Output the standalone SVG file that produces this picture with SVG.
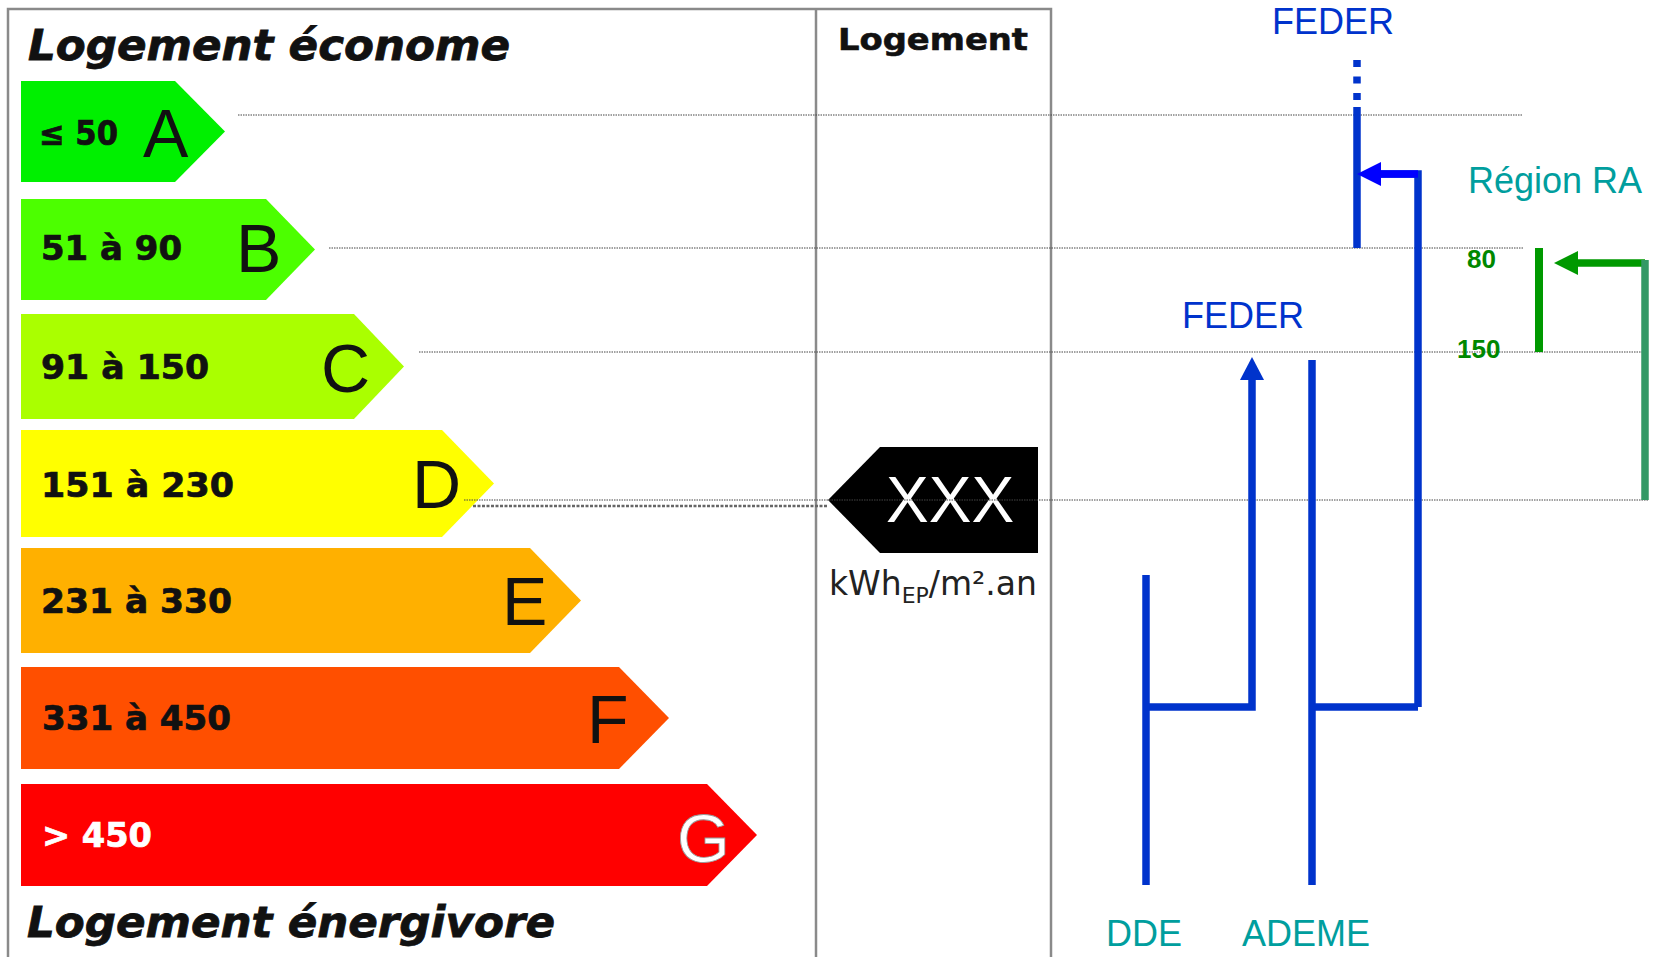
<svg xmlns="http://www.w3.org/2000/svg" width="1662" height="957" viewBox="0 0 1662 957">
<style>
.frame{fill:none;stroke:#8a8a8a;stroke-width:2.5}
.guide{stroke:#444;stroke-width:1;stroke-dasharray:1.5 1;fill:none}
.rng{font-family:"DejaVu Sans",sans-serif;font-weight:bold;font-size:33px;fill:#111;stroke:#111;stroke-width:0.7}
.let{font-family:"Liberation Sans",Arial,sans-serif;font-size:68px;fill:#111}
.ttl{font-family:"DejaVu Sans",sans-serif;font-weight:bold;font-style:italic;font-size:42px;fill:#111;stroke:#111;stroke-width:0.8}
.blue{stroke:#0033cc;stroke-width:7.5;fill:none}
.lbl{font-family:"Liberation Sans",Arial,sans-serif;font-size:36px}
</style>
<rect width="1662" height="957" fill="#fff"/>

<g id="frame">
<path class="frame" d="M8,957 V9 H1051 V957"/>
<line class="frame" x1="816" y1="9" x2="816" y2="957"/>
</g>

<g id="titles">
<text class="ttl" x="28" y="60" textLength="482" lengthAdjust="spacingAndGlyphs">Logement économe</text>
<text class="ttl" x="27" y="937" textLength="528" lengthAdjust="spacingAndGlyphs">Logement énergivore</text>
<text x="838" y="50" font-family="DejaVu Sans,sans-serif" font-weight="bold" font-size="30" fill="#111" stroke="#111" stroke-width="0.6" textLength="190" lengthAdjust="spacingAndGlyphs">Logement</text>
</g>

<g id="guides">
<line class="guide" x1="238" y1="115" x2="1523" y2="115"/>
<line class="guide" x1="329" y1="248" x2="1523" y2="248"/>
<line class="guide" x1="419" y1="352" x2="1642" y2="352"/>
<line x1="473" y1="506" x2="828" y2="506" stroke="#666" stroke-width="2.5" stroke-dasharray="3 1.5"/>
</g>

<g id="classA">
<polygon points="21,81 175,81 225,131.5 175,182 21,182" fill="#00f000"/>
<text class="rng" x="39" y="145" textLength="79" lengthAdjust="spacingAndGlyphs">≤ 50</text>
<text class="let" x="143" y="157">A</text>
</g>
<g id="classB">
<polygon points="21,199 266,199 315,249.5 266,300 21,300" fill="#4cff00"/>
<text class="rng" x="41" y="260" textLength="141" lengthAdjust="spacingAndGlyphs">51 à 90</text>
<text class="let" x="236" y="272">B</text>
</g>
<g id="classC">
<polygon points="21,314 354,314 404,366.5 354,419 21,419" fill="#aaff00"/>
<text class="rng" x="41" y="379" textLength="168" lengthAdjust="spacingAndGlyphs">91 à 150</text>
<text class="let" x="321" y="392">C</text>
</g>
<g id="classD">
<polygon points="21,430 442,430 494,483.5 442,537 21,537" fill="#ffff00"/>
<text class="rng" x="41" y="497" textLength="193" lengthAdjust="spacingAndGlyphs">151 à 230</text>
<text class="let" x="412" y="508">D</text>
</g>
<g id="classE">
<polygon points="21,548 530,548 581,600.5 530,653 21,653" fill="#ffb000"/>
<text class="rng" x="41" y="613" textLength="191" lengthAdjust="spacingAndGlyphs">231 à 330</text>
<text class="let" x="502" y="625">E</text>
</g>
<g id="classF">
<polygon points="21,667 619,667 669,718 619,769 21,769" fill="#ff4f00"/>
<text class="rng" x="42" y="730" textLength="189" lengthAdjust="spacingAndGlyphs">331 à 450</text>
<text class="let" x="587" y="743">F</text>
</g>
<g id="classG">
<polygon points="21,784 707,784 757,835 707,886 21,886" fill="#ff0000"/>
<text class="rng" x="42" y="847" style="fill:#fff;stroke:#fff" textLength="110" lengthAdjust="spacingAndGlyphs">&gt; 450</text>
<text class="let" x="677" y="862" style="fill:#fff" stroke="#999" stroke-width="0.8">G</text>
</g>

<g id="value">
<polygon points="828,500 880,447 1038,447 1038,553 880,553" fill="#000"/>
<text x="886" y="522" font-family="Liberation Sans,Arial,sans-serif" font-size="64" fill="#fff">XXX</text>
<text x="829" y="595" font-family="DejaVu Sans,sans-serif" font-size="33" fill="#222">kWh<tspan font-size="22" dy="8">EP</tspan><tspan dy="-8">/m².an</tspan></text>
</g>

<g id="guide-D">
<line class="guide" x1="464" y1="500" x2="1648" y2="500"/>
</g>

<g id="connectors">
<line x1="1357" y1="60" x2="1357" y2="100" stroke="#0033cc" stroke-width="7.5" stroke-dasharray="7 9.5"/>
<line class="blue" x1="1357" y1="107" x2="1357" y2="248"/>
<polyline points="1418,707 1418,174 1381,174" fill="none" stroke="#0033cc" stroke-width="7.5"/>
<line x1="1418" y1="174" x2="1381" y2="174" stroke="#0000ff" stroke-width="7.5"/>
<polygon points="1357,174 1381,162 1381,186" fill="#0000ff"/>
<polyline class="blue" points="1146,575 1146,885"/>
<polyline class="blue" points="1146,707 1252,707 1252,378"/>
<polygon points="1252,357 1264,380 1240,380" fill="#0033cc"/>
<polyline class="blue" points="1312,360 1312,885"/>
<polyline class="blue" points="1312,707 1418,707"/>
<line x1="1539" y1="248" x2="1539" y2="352" stroke="#009900" stroke-width="8"/>
<line x1="1645" y1="263" x2="1578" y2="263" stroke="#009900" stroke-width="7.5"/>
<polygon points="1554,263 1578,251 1578,275" fill="#009900"/>
<line x1="1645" y1="260" x2="1645" y2="500" stroke="#339966" stroke-width="7.5"/>
</g>

<g id="feder-top"><text class="lbl" x="1272" y="34" fill="#0033cc">FEDER</text></g>
<g id="feder-mid"><text class="lbl" x="1182" y="328" fill="#0033cc">FEDER</text></g>
<g id="region"><text class="lbl" x="1468" y="193" fill="#009e9e">Région RA</text>
<text x="1467" y="268" font-family="Liberation Sans,Arial,sans-serif" font-weight="bold" font-size="26" fill="#008800">80</text>
<text x="1457" y="358" font-family="Liberation Sans,Arial,sans-serif" font-weight="bold" font-size="26" fill="#008800">150</text></g>
<g id="dde"><text class="lbl" x="1106" y="946" fill="#009e9e">DDE</text></g>
<g id="ademe"><text class="lbl" x="1242" y="946" fill="#009e9e">ADEME</text></g>
</svg>
